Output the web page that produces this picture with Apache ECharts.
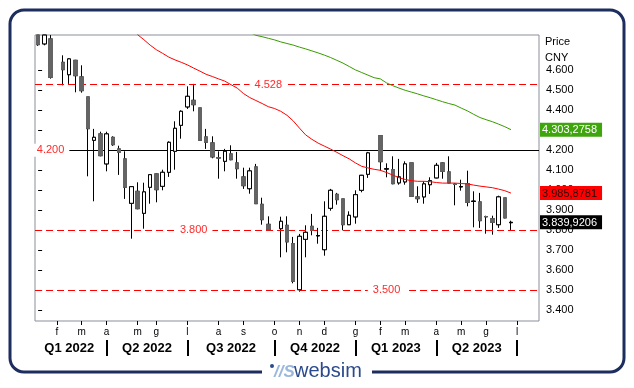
<!DOCTYPE html>
<html><head><meta charset="utf-8">
<script src="https://cdn.jsdelivr.net/npm/echarts@6/dist/echarts.min.js"></script>
<style>html,body{margin:0;padding:0;background:#fff}#c{width:634px;height:388px}</style>
</head><body><div id="c"></div>
<script>
// ---- data ----
const weeks = ['2022-01-10','2022-01-17','2022-01-24','2022-01-31','2022-02-07','2022-02-14','2022-02-21','2022-02-28','2022-03-07','2022-03-14','2022-03-21','2022-03-28','2022-04-04','2022-04-11','2022-04-18','2022-04-25','2022-05-02','2022-05-09','2022-05-16','2022-05-23','2022-05-30','2022-06-06','2022-06-13','2022-06-20','2022-06-27','2022-07-04','2022-07-11','2022-07-18','2022-07-25','2022-08-01','2022-08-08','2022-08-15','2022-08-22','2022-08-29','2022-09-05','2022-09-12','2022-09-19','2022-09-26','2022-10-03','2022-10-10','2022-10-17','2022-10-24','2022-10-31','2022-11-07','2022-11-14','2022-11-21','2022-11-28','2022-12-05','2022-12-12','2022-12-19','2022-12-26','2023-01-02','2023-01-09','2023-01-16','2023-01-23','2023-01-30','2023-02-06','2023-02-13','2023-02-20','2023-02-27','2023-03-06','2023-03-13','2023-03-20','2023-03-27','2023-04-03','2023-04-10','2023-04-17','2023-04-24','2023-05-01','2023-05-08','2023-05-15','2023-05-22','2023-05-29','2023-06-05','2023-06-12','2023-06-19','2023-06-26','2023-07-03','2023-07-10','2023-07-17','2023-07-24'];
const opens  = [4.776,4.732,4.757,null,4.64,4.578,4.65,4.567,4.467,4.25,4.282,4.132,4.265,4.207,4.157,3.935,3.995,3.885,4.015,4.082,4.02,4.09,4.195,4.325,4.417,4.45,4.412,4.267,4.237,4.163,4.145,4.182,4.137,4.067,4.008,4.117,3.93,3.83,null,3.808,3.825,3.733,3.503,3.755,3.82,3.772,3.703,3.91,3.98,3.957,3.828,3.867,4.0,4.08,null,4.273,4.106,4.103,4.037,4.042,4.137,3.967,3.967,4.028,4.062,4.137,4.092,4.031,4.017,4.033,3.944,3.942,3.869,3.858,3.828,3.962,3.838,null,null,null,null];
const closes = [4.728,4.776,4.565,null,4.603,4.657,4.573,4.498,4.308,4.265,4.173,4.282,4.228,4.19,4.015,4.018,3.908,3.992,4.078,4.003,4.09,4.24,4.31,4.395,4.47,4.428,4.25,4.24,4.167,4.161,4.195,4.153,4.108,4.023,4.097,3.933,3.853,3.803,null,3.845,3.742,3.545,3.77,3.79,3.80,3.774,3.87,4.0,3.953,3.828,3.875,3.978,4.075,4.187,null,4.143,4.108,4.033,4.067,4.132,3.97,3.958,4.032,4.048,4.125,4.095,4.037,4.029,4.019,3.94,3.946,3.848,3.867,3.84,3.967,3.862,3.8399206,null,null,null,null];
const lows   = [4.722,4.725,4.558,null,4.525,4.532,4.49,4.488,4.07,3.945,4.17,4.095,4.222,4.077,3.957,3.758,3.905,3.808,3.933,3.94,4.0,4.067,4.103,4.258,4.407,4.395,4.248,4.207,4.16,4.058,4.095,4.15,4.058,4.007,3.983,3.933,3.828,3.80,null,3.665,3.69,3.535,3.493,3.665,3.775,3.733,3.673,3.898,3.928,3.80,3.828,3.833,3.99,4.062,null,4.098,4.065,4.03,4.028,4.028,3.97,3.937,3.933,3.982,4.06,4.058,4.035,3.925,3.998,3.92,3.815,3.812,3.783,3.778,3.812,3.86,3.80,null,null,null,null];
const highs  = [4.776,4.776,4.776,null,4.675,4.66,4.652,4.625,4.467,4.307,4.293,4.293,4.27,4.223,4.195,4.02,4.04,4.038,4.078,4.085,4.103,4.245,4.345,4.40,4.52,4.532,4.412,4.307,4.27,4.195,4.207,4.225,4.192,4.113,4.113,4.132,3.963,3.87,null,3.868,3.87,3.767,3.782,3.825,3.882,3.812,3.945,4.007,3.987,3.957,3.895,4.0,4.077,4.192,null,4.273,4.135,4.17,4.157,4.145,4.137,4.02,4.045,4.065,4.137,4.14,4.17,4.035,4.053,4.098,3.995,3.987,3.873,3.873,3.973,3.962,3.848,null,null,null,null];
const maShort = [null,null,null,null,null,null,null,null,null,null,null,null,null,null,null,4.83,4.778,4.753,4.726,4.703,4.685,4.666,4.652,4.64,4.627,4.611,4.596,4.58,4.569,4.557,4.546,4.528,4.511,4.484,4.464,4.449,4.434,4.418,4.409,4.395,4.375,4.347,4.311,4.277,4.255,4.236,4.221,4.206,4.19,4.173,4.157,4.137,4.12,4.112,4.105,4.1,4.089,4.076,4.063,4.054,4.048,4.045,4.045,4.043,4.039,4.036,4.036,4.036,4.034,4.032,4.026,4.021,4.017,4.013,4.006,3.998,3.9858781,null,null,null,null];
const maLong = [null,null,null,null,null,null,null,null,null,null,null,null,null,null,null,null,null,null,null,null,null,null,null,null,null,null,null,null,null,null,null,null,null,null,4.79,4.775,4.768,4.76,4.752,4.742,4.734,4.726,4.716,4.707,4.697,4.687,4.676,4.664,4.65,4.636,4.619,4.602,4.589,4.576,4.563,4.557,4.537,4.523,4.511,4.5,4.491,4.482,4.472,4.463,4.453,4.443,4.434,4.426,4.411,4.397,4.38,4.364,4.353,4.343,4.331,4.318,4.3032758,null,null,null,null];
const yTicks = [3.4,3.5,3.6,3.7,3.8,3.9,4.0,4.1,4.2,4.3,4.4,4.5,4.6];
const monthSlots  = [3,7,11,16,19,24,29,33,38,42,46,51,55,59,64,68,72,77];
const monthLabels = ['f','m','a','m','g','l','a','s','o','n','d','g','f','m','a','m','g','l'];
const quarterBounds = [11,24,38,51,64,77];
const quarterMids   = [5,17.5,31,44.5,57.5,70.5];
const quarterLabels = ['Q1 2022','Q2 2022','Q3 2022','Q4 2022','Q1 2023','Q2 2023'];
const levelRed   = [4.528, 3.8, 3.5];
const levelBlack = [4.2];
const levelLabelSlots = {'4.528':37, '3.800':25, '3.500':56, '4.200':2};

// ---- chart ----
const Y_MIN = 3.3465, Y_MAX = 4.7765;
const FONT = '"Liberation Sans", Arial, sans-serif';
const chart = echarts.init(document.getElementById('c'), null, {renderer:'canvas'});
const full = weeks.map((w,i)=> opens[i]==null ? ['-','-','-','-'] : [opens[i],closes[i],lows[i],highs[i]]);
const bodies = weeks.map((w,i)=> opens[i]==null ? ['-','-','-','-'] : [opens[i],closes[i],Math.min(opens[i],closes[i]),Math.max(opens[i],closes[i])]);
const lastIdx = opens.reduce((a,v,i)=> v!=null ? i : a, 0);
const lastLong = maLong[lastIdx], lastShort = maShort[lastIdx], lastClose = closes[lastIdx];
const fmt7 = v => { const s = v.toFixed(7); return s.slice(0,5)+','+s.slice(5); };

const lvlLines = levelRed.map(v=>({yAxis:v, lineStyle:{color:'#ff0000', type:[7,4], width:1}}))
  .concat(levelBlack.map(v=>({yAxis:v, lineStyle:{color:'#000000', type:'solid', width:1}})));
const lvlLabels = levelRed.concat(levelBlack).map(v=>({
  coord:[weeks[levelLabelSlots[v.toFixed(3)]], v], value: v.toFixed(3)
}));

const option = {
  animation:false,
  textStyle:{fontFamily:FONT},
  grid:{left:35, top:35, width:504, height:286, show:true, borderColor:'#8d8d9a', borderWidth:1, backgroundColor:'#fff'},
  xAxis:[
    {type:'category', data:weeks, boundaryGap:true, axisLine:{show:false}, axisTick:{show:false}, axisLabel:{show:false}, splitLine:{show:false}},
    {type:'value', min:-0.5, max:80.5, position:'bottom', offset:0, axisLine:{show:false}, splitLine:{show:false},
     axisTick:{show:true, length:4, customValues:monthSlots, lineStyle:{color:'#000'}},
     axisLabel:{customValues:monthSlots, formatter:v=>monthLabels[monthSlots.indexOf(v)], fontSize:10, color:'#000', margin:6, fontFamily:FONT}},
    {type:'value', min:-0.5, max:80.5, position:'bottom', offset:19, axisLine:{show:false}, splitLine:{show:false},
     axisTick:{show:true, length:16, customValues:quarterBounds, lineStyle:{color:'#000', width:2}},
     axisLabel:{customValues:quarterMids, formatter:v=>quarterLabels[quarterMids.indexOf(v)], fontSize:13, fontWeight:'bold', color:'#000', margin:2, fontFamily:FONT}}
  ],
  yAxis:[
    {type:'value', position:'right', min:Y_MIN, max:Y_MAX, axisLine:{show:false}, splitLine:{show:false},
     axisTick:{show:true, length:4, customValues:yTicks, lineStyle:{color:'#000'}},
     axisLabel:{customValues:yTicks, formatter:v=>v.toFixed(3), fontSize:11, color:'#000', margin:7, fontFamily:FONT, padding:[4,0,0,0]}},
    {type:'value', position:'right', min:Y_MIN, max:Y_MAX, axisLine:{show:false}, splitLine:{show:false}, axisTick:{show:false},
     axisLabel:{customValues:[lastLong,lastShort,lastClose], margin:1, fontSize:11, fontFamily:FONT,
       formatter:v=>{ const k = Math.abs(v-lastLong)<1e-6?'g':(Math.abs(v-lastShort)<1e-6?'r':'b'); return '{'+k+'|'+fmt7(v)+'}'; },
       rich:{
         g:{backgroundColor:'#3fa50c', color:'#fff', padding:[2,5,1,2], fontSize:11, fontFamily:FONT},
         r:{backgroundColor:'#ff0000', color:'#2a0000', padding:[2,5,1,2], fontSize:11, fontFamily:FONT},
         b:{backgroundColor:'#000000', color:'#fff', padding:[2,5,1,2], fontSize:11, fontFamily:FONT}
       }}}
  ],
  series:[
    {type:'line', data:[], z:1, silent:true,
     markLine:{symbol:['none','none'], silent:true, label:{show:false}, data:lvlLines}},
    {type:'line', data:[], z:3, silent:true,
     markPoint:{symbol:'circle', symbolSize:1, itemStyle:{color:'rgba(0,0,0,0)'}, silent:true,
       label:{show:true, position:'inside', formatter:p=>p.value, color:'#ff2a2a', backgroundColor:'#fff', padding:[1,5], fontSize:11, fontFamily:FONT},
       data:lvlLabels}},
    {type:'candlestick', data:full, barWidth:4, z:4, clip:true,
     itemStyle:{color:'#ffffff', color0:'#646464', borderColor:'#000', borderColor0:'#000', borderWidth:1}},
    {type:'candlestick', data:bodies, barWidth:4, z:5, clip:true,
     itemStyle:{color:'#ffffff', color0:'#646464', borderColor:'#000', borderColor0:'#646464', borderWidth:1}},
    {type:'line', data:maShort, z:6, symbol:'none', clip:true, lineStyle:{color:'#ff0000', width:1}},
    {type:'line', data:maLong, z:6, symbol:'none', clip:true, lineStyle:{color:'#3a9a00', width:1}}
  ],
  graphic:[
    {type:'rect', shape:{x:10, y:10, width:614, height:362, r:14}, style:{fill:'none', stroke:'#1c2d5e', lineWidth:3}, silent:true},
    {type:'rect', shape:{x:262, y:364, width:110, height:20}, style:{fill:'#fff'}, silent:true},
    {type:'circle', shape:{cx:272, cy:366, r:2}, style:{fill:'#2b4a8c'}},
    {type:'text', left:274, top:364, style:{text:'//S', fontSize:17, fontStyle:'italic', fontWeight:'bold', fill:'#9ab8dd', fontFamily:FONT}},
    {type:'text', left:294, top:361, style:{text:'websim', fontSize:20, fill:'#2b4a8c', fontFamily:FONT}},
    {type:'text', left:545, top:36, style:{text:'Price', fontSize:11, fill:'#000', fontFamily:FONT}},
    {type:'text', left:545, top:52, style:{text:'CNY', fontSize:11, fill:'#000', fontFamily:FONT}}
  ]
};
chart.setOption(option);
</script></body></html>
